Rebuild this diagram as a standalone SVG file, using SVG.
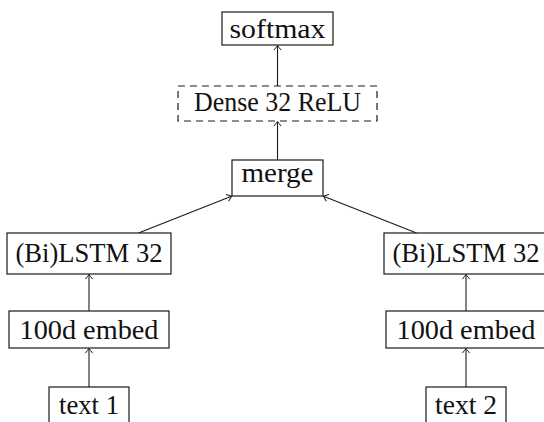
<svg xmlns="http://www.w3.org/2000/svg" width="544" height="422" viewBox="0 0 544 422">
<style>
.box{fill:#fff;stroke:#1a1a1a;stroke-width:1.2}
.dash{stroke-dasharray:7,5}
.lbl{font-family:"Liberation Serif","DejaVu Serif",serif;font-size:26.5px;fill:#111;text-anchor:middle}
.edge{fill:none;stroke:#1a1a1a;stroke-width:1.1;marker-end:url(#arr)}
</style>
<defs>
<marker id="arr" markerUnits="userSpaceOnUse" markerWidth="10" markerHeight="10" viewBox="-6 -5 7 10" refX="0" refY="0" orient="auto">
<path d="M-4.5,-3.6 Q-1.2,-1 0,0 Q-1.2,1 -4.5,3.6" fill="none" stroke="#1a1a1a" stroke-width="1"/>
</marker>
</defs>
<g id="connectors">
<line class="edge" x1="89" y1="387" x2="89" y2="348.6"/>
<line class="edge" x1="89" y1="311" x2="89" y2="274.6"/>
<line class="edge" x1="466" y1="387" x2="466" y2="348.6"/>
<line class="edge" x1="466" y1="311" x2="466" y2="274.6"/>
<line class="edge" x1="138.5" y1="233" x2="231.5" y2="196.2"/>
<line class="edge" x1="416.5" y1="233" x2="323.5" y2="196.2"/>
<line class="edge" x1="277.5" y1="160" x2="277.5" y2="121.6"/>
<line class="edge" x1="277.5" y1="86" x2="277.5" y2="45.6"/>
</g>
<g id="softmax">
<rect class="box" x="222" y="12" width="111" height="33"/>
<text class="lbl" x="277.5" y="38" textLength="96" lengthAdjust="spacingAndGlyphs">softmax</text>
</g>
<g id="dense">
<rect class="box dash" x="178" y="86" width="199" height="35"/>
<text class="lbl" x="277.5" y="111" textLength="167" lengthAdjust="spacingAndGlyphs">Dense 32 ReLU</text>
</g>
<g id="merge">
<rect class="box" x="232" y="160" width="91" height="36"/>
<text class="lbl" x="277.5" y="182" textLength="72" lengthAdjust="spacingAndGlyphs">merge</text>
</g>
<g id="lstm1">
<rect class="box" x="7" y="233" width="164" height="41"/>
<text class="lbl" x="89" y="262" textLength="147" lengthAdjust="spacingAndGlyphs">(Bi)LSTM 32</text>
</g>
<g id="embed1">
<rect class="box" x="9" y="311" width="160" height="37"/>
<text class="lbl" x="89" y="339" textLength="139" lengthAdjust="spacingAndGlyphs">100d embed</text>
</g>
<g id="text1">
<rect class="box" x="49" y="387" width="80" height="40"/>
<text class="lbl" x="89" y="414" textLength="60" lengthAdjust="spacingAndGlyphs">text 1</text>
</g>
<g id="lstm2">
<rect class="box" x="384" y="233" width="164" height="41"/>
<text class="lbl" x="466" y="262" textLength="147" lengthAdjust="spacingAndGlyphs">(Bi)LSTM 32</text>
</g>
<g id="embed2">
<rect class="box" x="386" y="311" width="160" height="37"/>
<text class="lbl" x="466" y="339" textLength="139" lengthAdjust="spacingAndGlyphs">100d embed</text>
</g>
<g id="text2">
<rect class="box" x="426" y="387" width="80" height="40"/>
<text class="lbl" x="466" y="414" textLength="62" lengthAdjust="spacingAndGlyphs">text 2</text>
</g>
</svg>
